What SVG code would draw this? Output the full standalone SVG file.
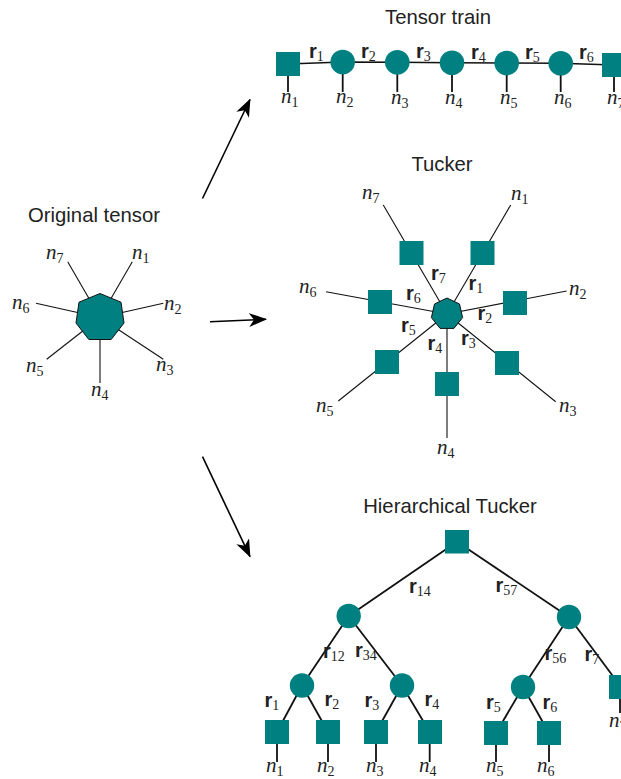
<svg xmlns="http://www.w3.org/2000/svg" width="621" height="779" viewBox="0 0 621 779">
<style>
.t{font-family:"Liberation Sans",Arial,sans-serif;font-size:20.3px;fill:#222;text-anchor:middle}
.n{font-family:"Liberation Serif","Times New Roman",serif;font-style:italic;font-size:21px;fill:#222}
.s{font-family:"Liberation Serif","Times New Roman",serif;font-style:normal;font-size:14px}
.r{font-family:"Liberation Sans",Arial,sans-serif;font-weight:bold;font-size:20px;fill:#222}
.rs{font-family:"Liberation Serif","Times New Roman",serif;font-weight:normal;font-size:14px}
.sq{fill:#008080}
.ci{fill:#008080}
.hp{fill:#008080;stroke:#111;stroke-width:1}
.l1{stroke:#111;stroke-width:1.1;fill:none}
.l2{stroke:#111;stroke-width:1.8;fill:none}
.ar{stroke:#000;stroke-width:1.6;fill:none;marker-end:url(#ah)}
</style>
<defs>
<marker id="ah" markerUnits="userSpaceOnUse" markerWidth="18" markerHeight="14" refX="17" refY="7" orient="auto" viewBox="0 0 18 14">
<path d="M0,0 L18,7 L0,14 L5,7 Z" fill="#000"/>
</marker>
</defs>

<g id="titles">
<text class="t" x="438" y="24">Tensor train</text>
<text class="t" x="94" y="222">Original tensor</text>
<text class="t" x="442" y="171">Tucker</text>
<text class="t" x="450" y="513">Hierarchical Tucker</text>
</g>

<g id="connectors">
<line class="ar" x1="202.5" y1="198.5" x2="250" y2="99.5"/>
<line class="ar" x1="210" y1="321.7" x2="266" y2="319.3"/>
<line class="ar" x1="202.5" y1="456.7" x2="250" y2="556.7"/>
<line class="l1" x1="100" y1="317.5" x2="132.3" y2="261.7"/>
<line class="l1" x1="100" y1="317.5" x2="163.3" y2="303.3"/>
<line class="l1" x1="100" y1="317.5" x2="163.3" y2="359.3"/>
<line class="l1" x1="100" y1="317.5" x2="100" y2="383"/>
<line class="l1" x1="100" y1="317.5" x2="46.7" y2="359.3"/>
<line class="l1" x1="100" y1="317.5" x2="36" y2="303.3"/>
<line class="l1" x1="100" y1="317.5" x2="67.7" y2="261.7"/>
<polyline class="l1" style="stroke-width:1.5" points="288,64 342.7,62 397.3,62.3 452,62.7 506.7,63 560.7,63.3 614,65"/>
<line class="l2" x1="288" y1="64" x2="288" y2="92"/>
<line class="l2" x1="342.7" y1="62" x2="342.7" y2="92"/>
<line class="l2" x1="397.3" y1="62.3" x2="397.3" y2="92"/>
<line class="l2" x1="452" y1="62.7" x2="452" y2="92"/>
<line class="l2" x1="506.7" y1="63" x2="506.7" y2="92"/>
<line class="l2" x1="560.7" y1="63.3" x2="560.7" y2="92"/>
<line class="l2" x1="614" y1="65" x2="614" y2="92"/>
<line class="l1" x1="447" y1="314" x2="383.3" y2="205"/>
<line class="l1" x1="447" y1="314" x2="510.7" y2="205"/>
<line class="l1" x1="447" y1="314" x2="326" y2="291.7"/>
<line class="l1" x1="447" y1="314" x2="566.7" y2="291"/>
<line class="l1" x1="447" y1="314" x2="338.3" y2="401"/>
<line class="l1" x1="447" y1="314" x2="555.7" y2="401.7"/>
<line class="l1" x1="447" y1="314" x2="447" y2="438"/>
<line class="l2" x1="457" y1="541.7" x2="348.7" y2="616"/>
<line class="l2" x1="457" y1="541.7" x2="569" y2="617"/>
<line class="l2" x1="348.7" y1="616" x2="302" y2="685.5"/>
<line class="l2" x1="348.7" y1="616" x2="402" y2="685.5"/>
<line class="l2" x1="569" y1="617" x2="523" y2="687"/>
<line class="l2" x1="569" y1="617" x2="621" y2="687"/>
<line class="l2" x1="302" y1="685.5" x2="277" y2="732"/>
<line class="l2" x1="302" y1="685.5" x2="328" y2="732"/>
<line class="l2" x1="402" y1="685.5" x2="376" y2="732"/>
<line class="l2" x1="402" y1="685.5" x2="429.7" y2="732"/>
<line class="l2" x1="523" y1="687" x2="496" y2="733"/>
<line class="l2" x1="523" y1="687" x2="549" y2="733"/>
<line class="l2" x1="277" y1="732" x2="277" y2="762"/>
<line class="l2" x1="328" y1="732" x2="328" y2="762"/>
<line class="l2" x1="376" y1="732" x2="376" y2="762"/>
<line class="l2" x1="429.7" y1="732" x2="429.7" y2="762"/>
<line class="l2" x1="496" y1="733" x2="496" y2="762"/>
<line class="l2" x1="549" y1="733" x2="549" y2="762"/>
<line class="l2" x1="620" y1="687" x2="620" y2="713"/>
</g>

<g id="original">
<polygon class="hp" points="100,293.5 121,302.2 124,323 111.2,339.5 88.8,339.5 76,323 79,302.2"/>
<text class="n" x="46" y="259">n<tspan class="s" dy="4">7</tspan></text>
<text class="n" x="132" y="259">n<tspan class="s" dy="4">1</tspan></text>
<text class="n" x="12" y="309">n<tspan class="s" dy="4">6</tspan></text>
<text class="n" x="164" y="310">n<tspan class="s" dy="4">2</tspan></text>
<text class="n" x="26" y="372">n<tspan class="s" dy="4">5</tspan></text>
<text class="n" x="156" y="371">n<tspan class="s" dy="4">3</tspan></text>
<text class="n" x="91" y="396">n<tspan class="s" dy="4">4</tspan></text>
</g>

<g id="tt-nodes">
<rect class="sq" x="276" y="52" width="24" height="24"/>
<circle class="ci" cx="342.7" cy="62" r="12.3"/>
<circle class="ci" cx="397.3" cy="62.3" r="12.3"/>
<circle class="ci" cx="452" cy="62.7" r="12.3"/>
<circle class="ci" cx="506.7" cy="63" r="12.3"/>
<circle class="ci" cx="560.7" cy="63.3" r="12.3"/>
<rect class="sq" x="602" y="53" width="24" height="24"/>
</g>
<g id="tt-labels">
<text class="r" x="309" y="58">r<tspan class="rs" dy="3">1</tspan></text>
<text class="r" x="361" y="58">r<tspan class="rs" dy="3">2</tspan></text>
<text class="r" x="416" y="58">r<tspan class="rs" dy="3">3</tspan></text>
<text class="r" x="471" y="59">r<tspan class="rs" dy="3">4</tspan></text>
<text class="r" x="525" y="59">r<tspan class="rs" dy="3">5</tspan></text>
<text class="r" x="579" y="59">r<tspan class="rs" dy="3">6</tspan></text>
<text class="n" x="281" y="103">n<tspan class="s" dy="4">1</tspan></text>
<text class="n" x="336" y="103">n<tspan class="s" dy="4">2</tspan></text>
<text class="n" x="391" y="104">n<tspan class="s" dy="4">3</tspan></text>
<text class="n" x="445" y="104">n<tspan class="s" dy="4">4</tspan></text>
<text class="n" x="500" y="104">n<tspan class="s" dy="4">5</tspan></text>
<text class="n" x="554" y="104">n<tspan class="s" dy="4">6</tspan></text>
<text class="n" x="607" y="104">n<tspan class="s" dy="4">7</tspan></text>
</g>

<g id="tucker">
<polygon class="hp" points="447,298 459.5,304 462.6,317.6 453.9,328.4 440.1,328.4 431.4,317.6 434.5,304"/>
<rect class="sq" x="399.5" y="241" width="24" height="24"/>
<rect class="sq" x="470.5" y="241" width="24" height="24"/>
<rect class="sq" x="368" y="290" width="24" height="24"/>
<rect class="sq" x="503" y="291" width="24" height="24"/>
<rect class="sq" x="375" y="350" width="24" height="24"/>
<rect class="sq" x="495" y="351" width="24" height="24"/>
<rect class="sq" x="435" y="372" width="24" height="24"/>
<text class="r" x="431" y="280">r<tspan class="rs" dy="3">7</tspan></text>
<text class="r" x="468.5" y="290">r<tspan class="rs" dy="3">1</tspan></text>
<text class="r" x="406" y="300">r<tspan class="rs" dy="3">6</tspan></text>
<text class="r" x="477.5" y="320">r<tspan class="rs" dy="3">2</tspan></text>
<text class="r" x="401" y="332">r<tspan class="rs" dy="3">5</tspan></text>
<text class="r" x="427.5" y="350">r<tspan class="rs" dy="3">4</tspan></text>
<text class="r" x="461" y="345">r<tspan class="rs" dy="3">3</tspan></text>
<text class="n" x="362" y="199">n<tspan class="s" dy="4">7</tspan></text>
<text class="n" x="511" y="200">n<tspan class="s" dy="4">1</tspan></text>
<text class="n" x="299" y="293">n<tspan class="s" dy="4">6</tspan></text>
<text class="n" x="569" y="295">n<tspan class="s" dy="4">2</tspan></text>
<text class="n" x="316" y="412">n<tspan class="s" dy="4">5</tspan></text>
<text class="n" x="559" y="412">n<tspan class="s" dy="4">3</tspan></text>
<text class="n" x="437" y="454">n<tspan class="s" dy="4">4</tspan></text>
</g>

<g id="ht-nodes">
<rect class="sq" x="445" y="530" width="24" height="23.5"/>
<circle class="ci" cx="348.7" cy="616" r="12.2"/>
<circle class="ci" cx="569" cy="617" r="12.2"/>
<circle class="ci" cx="302" cy="685.5" r="12.2"/>
<circle class="ci" cx="402" cy="685.5" r="12.2"/>
<circle class="ci" cx="523" cy="687" r="12.2"/>
<rect class="sq" x="609" y="675" width="24" height="24"/>
<rect class="sq" x="265" y="720" width="24" height="24"/>
<rect class="sq" x="316" y="720" width="24" height="24"/>
<rect class="sq" x="364" y="720" width="24" height="24"/>
<rect class="sq" x="418" y="720" width="24" height="24"/>
<rect class="sq" x="484" y="721" width="24" height="24"/>
<rect class="sq" x="537" y="721" width="24" height="24"/>
</g>
<g id="ht-labels">
<text class="r" x="409" y="593">r<tspan class="rs" dy="3">14</tspan></text>
<text class="r" x="495.5" y="592">r<tspan class="rs" dy="3">57</tspan></text>
<text class="r" x="323" y="658">r<tspan class="rs" dy="3">12</tspan></text>
<text class="r" x="355" y="657">r<tspan class="rs" dy="3">34</tspan></text>
<text class="r" x="544.5" y="660">r<tspan class="rs" dy="3">56</tspan></text>
<text class="r" x="584.5" y="661">r<tspan class="rs" dy="3">7</tspan></text>
<text class="r" x="264.5" y="707">r<tspan class="rs" dy="3">1</tspan></text>
<text class="r" x="324.5" y="706">r<tspan class="rs" dy="3">2</tspan></text>
<text class="r" x="364.5" y="707">r<tspan class="rs" dy="3">3</tspan></text>
<text class="r" x="424.5" y="706">r<tspan class="rs" dy="3">4</tspan></text>
<text class="r" x="486" y="709">r<tspan class="rs" dy="3">5</tspan></text>
<text class="r" x="542.5" y="709">r<tspan class="rs" dy="3">6</tspan></text>
<text class="n" x="266" y="772">n<tspan class="s" dy="4">1</tspan></text>
<text class="n" x="317" y="772">n<tspan class="s" dy="4">2</tspan></text>
<text class="n" x="366" y="772">n<tspan class="s" dy="4">3</tspan></text>
<text class="n" x="419" y="772">n<tspan class="s" dy="4">4</tspan></text>
<text class="n" x="486" y="772">n<tspan class="s" dy="4">5</tspan></text>
<text class="n" x="537" y="772">n<tspan class="s" dy="4">6</tspan></text>
<text class="n" x="609" y="727">n<tspan class="s" dy="4">7</tspan></text>
</g>
</svg>
